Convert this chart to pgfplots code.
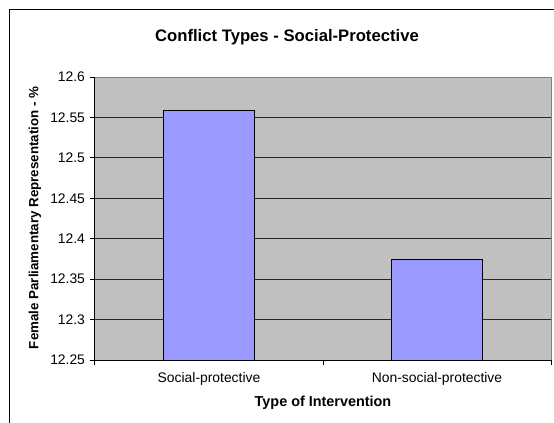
\documentclass[border=0pt]{standalone}
\usepackage{pgfplots}
\pgfplotsset{compat=1.18}
\usepackage{fontspec}
\setmainfont{Liberation Sans}
\definecolor{plotbg}{HTML}{C0C0C0}
\definecolor{barblue}{HTML}{9999FF}
\definecolor{bordergray}{HTML}{808080}
\begin{document}
\begin{tikzpicture}
\useasboundingbox (0,0) rectangle (415.5pt,316.5pt);
\fill[white] (0,0) rectangle (415.5pt,316.5pt);
\draw[black, line width=0.75pt] (6.75pt,-10pt) -- (6.75pt,309pt) -- (420pt,309pt);
\begin{axis}[
  at={(71.25pt,46.5pt)}, anchor=south west,
  width=342pt, height=212.25pt, scale only axis,
  ybar, bar width=0.4,
  xmin=0.5, xmax=2.5, ymin=12.25, ymax=12.6,
  axis background/.style={fill=plotbg},
  axis line style={bordergray, line width=0.75pt},
  xtick={1,2},
  xticklabels={Social-protective, Non-social-protective},
  xticklabel style={yshift=-1.5pt},
  ytick={12.25,12.3,12.35,12.4,12.45,12.5,12.55,12.6},
  yticklabel style={/pgf/number format/fixed, /pgf/number format/precision=2},
  /pgf/number format/assume math mode=true,
  tick pos=left,
  tick align=outside,
  major tick length=4pt,
  tick style={black, line width=0.75pt},
  xtick style={draw=none},
  extra x ticks={0.5,1.5,2.5},
  extra x tick labels={},
  extra x tick style={xtick style={draw=black}, grid=none, tick pos=left},
  ymajorgrids,
  grid style={black!85, line width=0.75pt},
  ticklabel style={font=\fontsize{10.4}{12}\selectfont},
  title={\bfseries Conflict Types - Social-Protective},
  title style={font=\fontsize{12.5}{14}\selectfont, at={(axis description cs:0.421,1.113)}, anchor=center, yshift=0pt},
  xlabel={\bfseries Type of Intervention},
  xlabel style={font=\fontsize{10.8}{13}\selectfont, at={(axis description cs:0.5,-0.152)}, anchor=center},
  ylabel={\bfseries Female Parliamentary Representation - \%},
  ylabel style={font=\fontsize{10}{12}\selectfont, at={(axis description cs:-0.1316,0.502)}, anchor=center},
  after end axis/.code={
    \draw[black, line width=0.75pt] (rel axis cs:0,1) -- (rel axis cs:0,0) -- (rel axis cs:1,0);
  },
]
\addplot[draw=black, fill=barblue, line width=0.75pt] coordinates {(1,12.558) (2,12.374)};
\end{axis}
\end{tikzpicture}
\end{document}
